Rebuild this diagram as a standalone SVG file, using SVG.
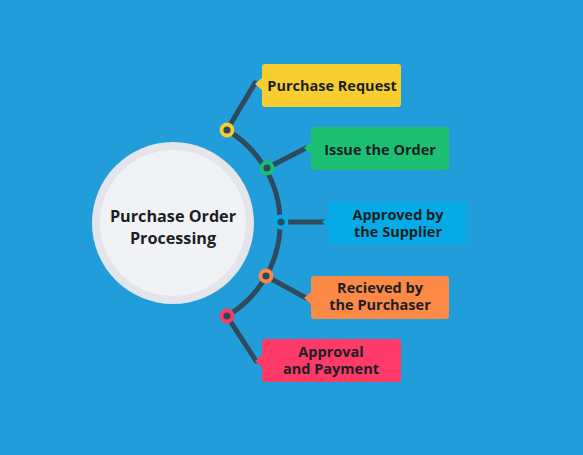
<svg xmlns="http://www.w3.org/2000/svg" width="583" height="455" viewBox="0 0 583 455">
<style>
.t{font-family:"Open Sans","Liberation Sans",sans-serif;font-weight:700;font-size:14.5px;fill:#1b1f24;text-anchor:middle}
.c{font-size:16.2px}
.ln{stroke:#2e4a5f;stroke-width:5;fill:none;stroke-linecap:round}
.dot{fill:#2e4a5f;stroke-width:3.8}
</style>
<rect width="583" height="455" fill="#219dd9"/>
<g id="center">
<circle cx="173" cy="223" r="81" fill="#e3e5ea"/>
<circle cx="173" cy="223" r="73" fill="#f1f2f5"/>
<text class="t c" x="173" y="221.5">Purchase Order<tspan x="173" y="243.5">Processing</tspan></text>
</g>
<g id="connectors">
<path class="ln" d="M227,130 A108,108 0 0 1 227,316"/>
<path class="ln" d="M227,130 L255,83"/>
<path class="ln" d="M267,168 L306,148"/>
<path class="ln" d="M281,222 L326,222"/>
<path class="ln" d="M266,276 L306,298"/>
<path class="ln" d="M227,316 L256,361"/>
</g>
<g id="n1">
<rect x="262" y="64" width="139" height="43" rx="3" fill="#f8cd2f"/>
<path d="M263,77 L255,84 L263,91 Z" fill="#f8cd2f"/>
<text class="t" x="332" y="91">Purchase Request</text>
<circle class="dot" cx="227" cy="130" r="5.5" stroke="#f8cd2f"/>
</g>
<g id="n2">
<rect x="311" y="127" width="138" height="43" rx="3" fill="#1dbf73"/>
<path d="M312,141 L304,148 L312,155 Z" fill="#1dbf73"/>
<text class="t" x="380" y="155">Issue the Order</text>
<circle class="dot" cx="267" cy="168" r="5.5" stroke="#1dbf73"/>
</g>
<g id="n3">
<rect x="329" y="202" width="138" height="42" rx="3" fill="#05abe7"/>
<path d="M330,215 L322,222 L330,229 Z" fill="#05abe7"/>
<text class="t" x="398" y="219.5">Approved by<tspan x="398" y="237">the Supplier</tspan></text>
<circle class="dot" cx="281" cy="222" r="5.5" stroke="#05abe7"/>
</g>
<g id="n4">
<rect x="311" y="276" width="138" height="43" rx="3" fill="#fd8946"/>
<path d="M312,291 L304,298 L312,305 Z" fill="#fd8946"/>
<text class="t" x="380" y="292.5">Recieved by<tspan x="380" y="310">the Purchaser</tspan></text>
<circle class="dot" cx="266" cy="276" r="5.5" stroke="#fd8946"/>
</g>
<g id="n5">
<rect x="262" y="339" width="139" height="43" rx="3" fill="#fe3a69"/>
<path d="M263,354 L255,361 L263,368 Z" fill="#fe3a69"/>
<text class="t" x="331" y="356.5">Approval<tspan x="331" y="374">and Payment</tspan></text>
<circle class="dot" cx="227" cy="316" r="5.5" stroke="#fe3a69"/>
</g>
</svg>
